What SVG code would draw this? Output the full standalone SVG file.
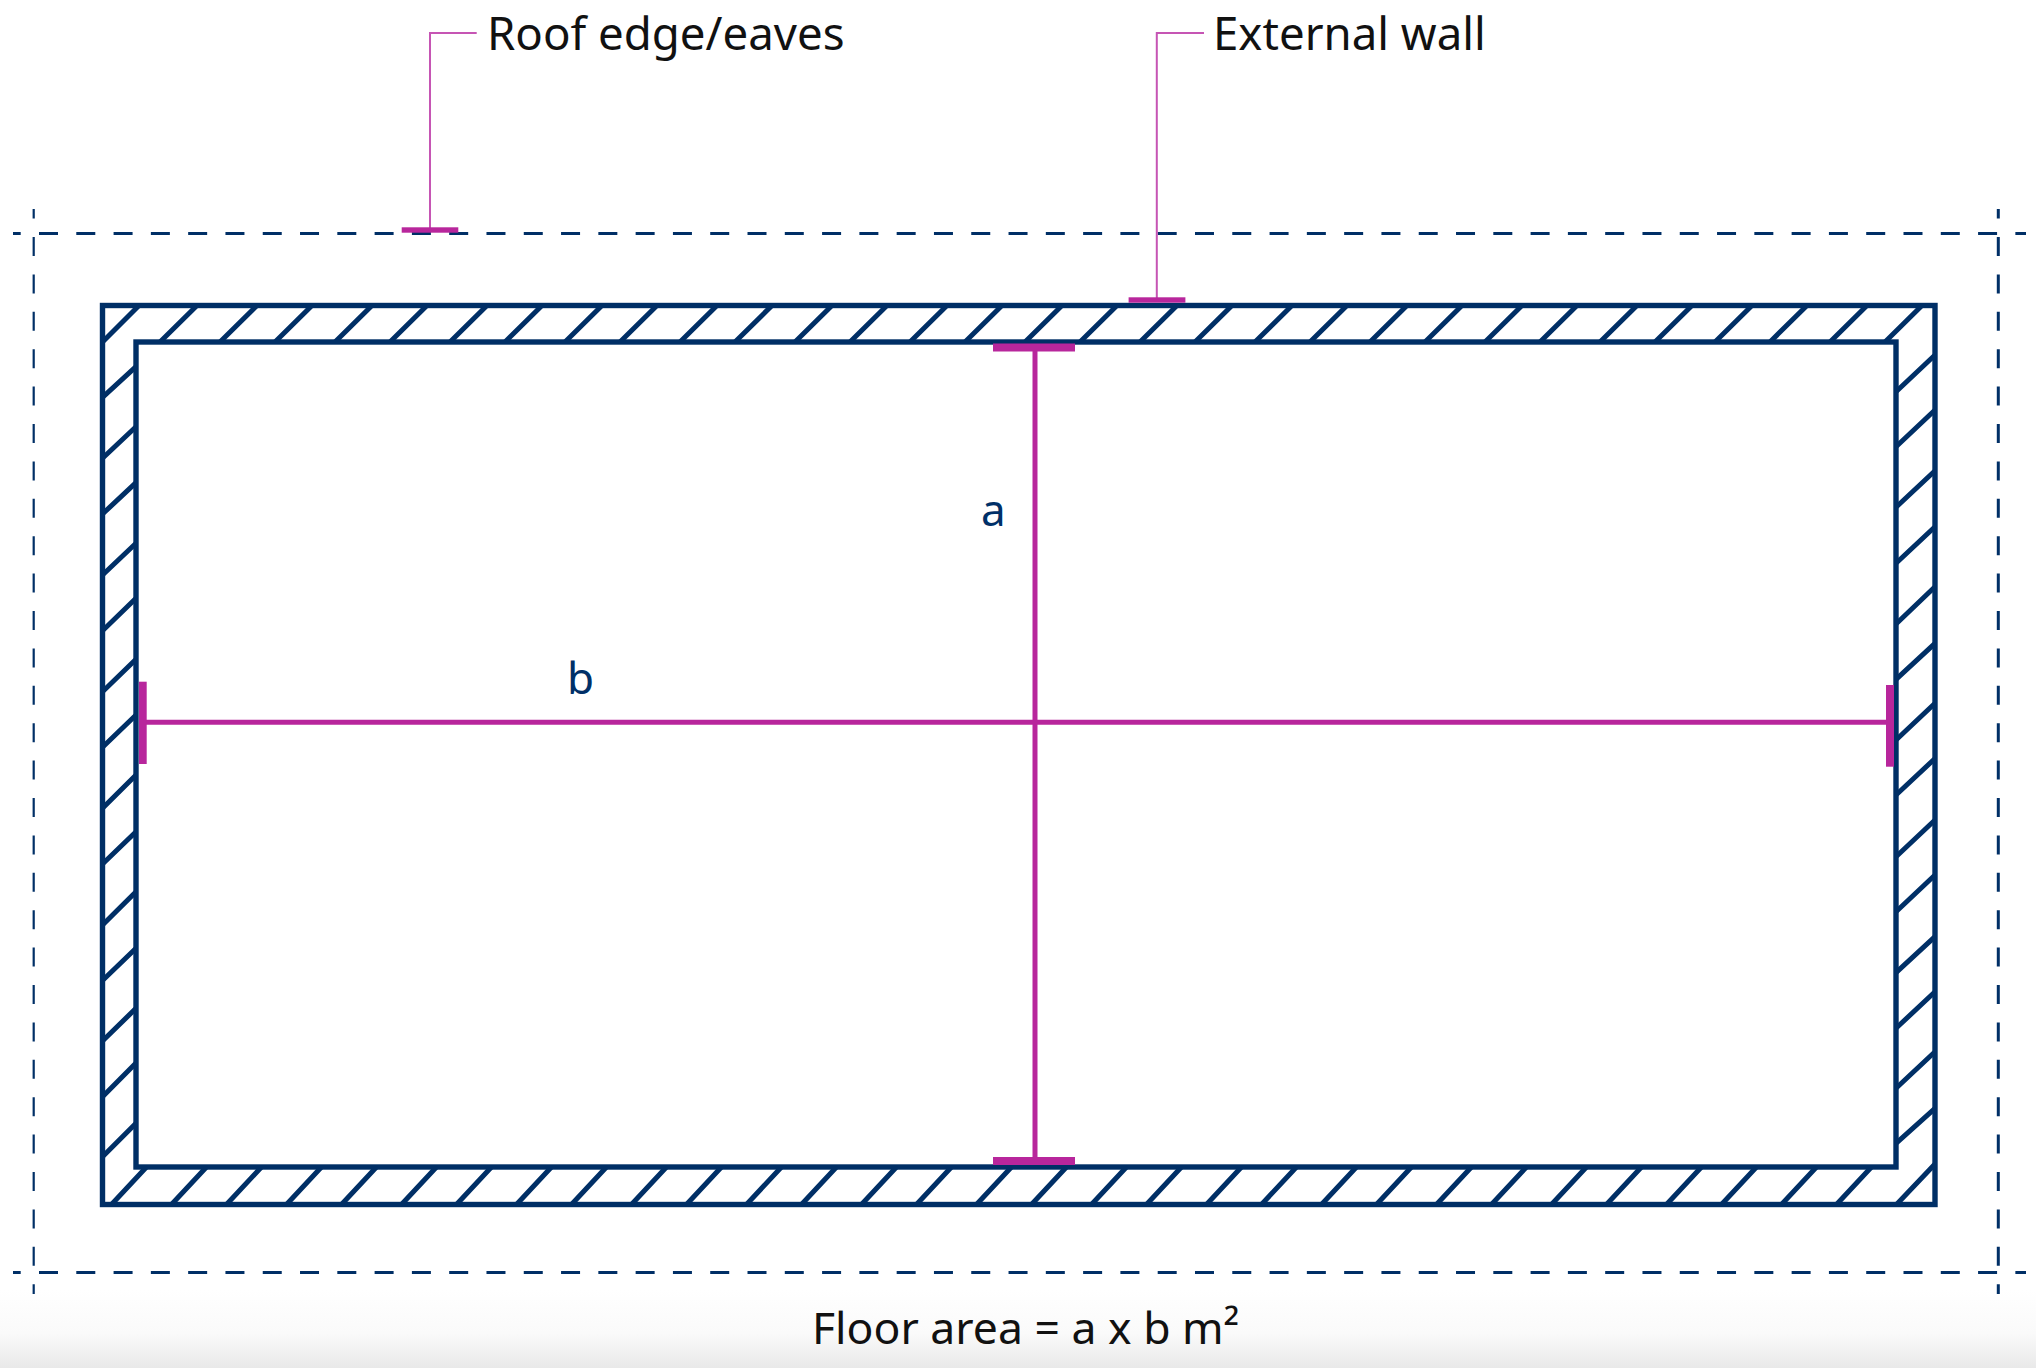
<svg xmlns="http://www.w3.org/2000/svg" width="2036" height="1368" viewBox="0 0 2036 1368">
<defs>
<linearGradient id="fade" x1="0" y1="0" x2="0" y2="1"><stop offset="0" stop-color="#ffffff"/><stop offset="0.55" stop-color="#fafafa"/><stop offset="1" stop-color="#e9e9e9"/></linearGradient>
</defs>
<style>
.wall{fill:none;stroke:#002f66;stroke-width:5.4}
.hatch{fill:none;stroke:#002f66;stroke-width:5}
.dh{fill:none;stroke:#002f66;stroke-width:3;stroke-dasharray:19 18.29;stroke-dashoffset:11.29}
.dv{fill:none;stroke:#002f66;stroke-width:2.2;stroke-dasharray:19 18.4;stroke-dashoffset:9.4}
.leader{fill:none;stroke:#c655b4;stroke-width:2}
.dim{fill:none;stroke:#b8269c;stroke-width:5}
.bar{fill:#b8269c}
text{font-family:"Noto Sans","Open Sans","Liberation Sans",sans-serif;font-size:45.6px;fill:#111111}
.var{fill:#003068;font-size:44px}
.floor{font-size:44.5px}
</style>
<rect width="2036" height="1368" fill="#ffffff"/>
<rect y="1290" width="2036" height="78" fill="url(#fade)"/>
<g id="eaves-outline">
<line class="dh" x1="13" y1="233.5" x2="2026" y2="233.5"/>
<line class="dh" x1="13" y1="1272.5" x2="2026" y2="1272.5"/>
<line class="dv" x1="33.7" y1="209" x2="33.7" y2="1294"/>
<line class="dv" x1="1998.3" y1="209" x2="1998.3" y2="1294" style="stroke-width:3"/>
</g>
<g id="external-wall">
<path class="hatch" d="M102.5 342L139 305.5M160 342L197 305.5M220 342L257 305.5M275 342L312 305.5M335 342L372 305.5M390 342L427 305.5M450 342L487 305.5M505 342L542 305.5M565 342L602 305.5M620 342L657 305.5M680 342L717 305.5M735 342L772 305.5M795 342L832 305.5M850 342L887 305.5M910 342L947 305.5M965 342L1002 305.5M1025 342L1062 305.5M1080 342L1117 305.5M1140 342L1177 305.5M1195 342L1232 305.5M1255 342L1292 305.5M1310 342L1347 305.5M1370 342L1407 305.5M1425 342L1462 305.5M1485 342L1522 305.5M1540 342L1577 305.5M1600 342L1637 305.5M1655 342L1692 305.5M1715 342L1752 305.5M1770 342L1807 305.5M1830 342L1867 305.5M1885 342L1922 305.5"/>
<path class="hatch" d="M111.5 1204.5L146.5 1167M171.5 1204.5L206.5 1167M226.5 1204.5L261.5 1167M286.5 1204.5L321.5 1167M341.5 1204.5L376.5 1167M401.5 1204.5L436.5 1167M456.5 1204.5L491.5 1167M516.5 1204.5L551.5 1167M571.5 1204.5L606.5 1167M631.5 1204.5L666.5 1167M686.5 1204.5L721.5 1167M746.5 1204.5L781.5 1167M801.5 1204.5L836.5 1167M861.5 1204.5L896.5 1167M916.5 1204.5L951.5 1167M976.5 1204.5L1011.5 1167M1031.5 1204.5L1066.5 1167M1091.5 1204.5L1126.5 1167M1146.5 1204.5L1181.5 1167M1206.5 1204.5L1241.5 1167M1261.5 1204.5L1296.5 1167M1321.5 1204.5L1356.5 1167M1376.5 1204.5L1411.5 1167M1436.5 1204.5L1471.5 1167M1491.5 1204.5L1526.5 1167M1551.5 1204.5L1586.5 1167M1606.5 1204.5L1641.5 1167M1666.5 1204.5L1701.5 1167M1721.5 1204.5L1756.5 1167M1781.5 1204.5L1816.5 1167M1836.5 1204.5L1871.5 1167M1896.5 1204.5L1935 1164"/>
<path class="hatch" d="M102.5 397.3L136 366.7M102.5 458.3L136 426.7M102.5 514L136 482.7M102.5 575L136 543.3M102.5 630.7L136 598.3M102.5 691.7L136 659.3M102.5 747.3L136 715M102.5 808.3L136 775M102.5 864L136 831.7M102.5 925L136 891.7M102.5 980.5L136 948.3M102.5 1041L136 1008.3M102.5 1096.7L136 1063M102.5 1156.7L136 1123.3"/>
<path class="hatch" d="M1896 391.7L1935 355M1896 446.7L1935 410M1896 507.3L1935 470.7M1896 563.3L1935 526.7M1896 624L1935 586.7M1896 679.3L1935 643.3M1896 740L1935 703.3M1896 795L1935 758.5M1896 856.7L1935 820M1896 911.7L1935 875M1896 972.7L1935 936.7M1896 1028.3L1935 991.7M1896 1088.3L1935 1051.7M1896 1143.3L1935 1108.3"/>
<rect class="wall" x="102.5" y="305.5" width="1832.5" height="899"/>
<rect class="wall" x="136" y="342" width="1760" height="825"/>
</g>
<g id="connectors">
<path class="leader" d="M476.7 33H430V228"/>
<path class="leader" d="M1204 33H1156.8V298"/>
<line class="dim" x1="1035" y1="350" x2="1035" y2="1158"/>
<line class="dim" x1="146" y1="722.3" x2="1887" y2="722.3"/>
<rect class="bar" x="401.7" y="227.3" width="56.6" height="5.4"/>
<rect class="bar" x="1128.6" y="297.3" width="56.8" height="5.4"/>
<rect class="bar" x="993" y="343.5" width="82" height="8"/>
<rect class="bar" x="993" y="1157" width="82" height="8"/>
<rect class="bar" x="139" y="681.7" width="7.7" height="82.3"/>
<rect class="bar" x="1886" y="685" width="8" height="81.7"/>
</g>
<g id="label-roof"><text x="487" y="50">Roof edge/eaves</text></g>
<g id="label-wall"><text x="1213" y="50">External wall</text></g>
<g id="label-a"><text class="var" x="981" y="526">a</text></g>
<g id="label-b"><text class="var" x="567" y="694">b</text></g>
<g id="label-floor"><text class="floor" x="812" y="1344">Floor area = a x b m²</text></g>
</svg>
